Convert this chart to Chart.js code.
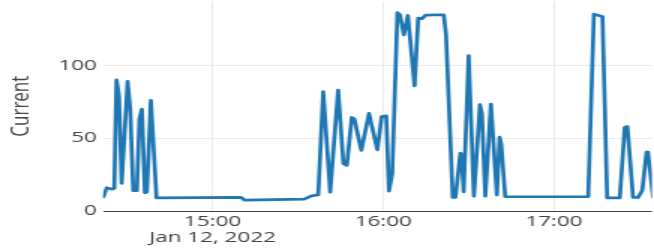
<!DOCTYPE html>
<html>
<head>
<meta charset="utf-8">
<title>Current</title>
<script src="https://cdn.jsdelivr.net/npm/chart.js@4.4.1/dist/chart.umd.min.js"></script>
<style>
  html, body { margin: 0; padding: 0; background: #fff; overflow: hidden; }
  /* the source picture is stretched sideways, so the chart is drawn narrow and widened */
  #wrap { position: relative; width: 436px; height: 251px; transform: scaleX(1.5); transform-origin: 0 0; }
</style>
</head>
<body>
<div id="wrap"><canvas id="current"></canvas></div>
<script>
const times = [
  '14:21:28', '14:22:46', '14:24:44', '14:25:26', '14:26:12', '14:27:05', '14:28:01', '14:30:07',
  '14:31:02', '14:32:05', '14:33:23', '14:34:16', '14:35:08', '14:36:11', '14:36:53', '14:38:17',
  '14:40:17', '15:10:03', '15:11:13', '15:32:13', '15:34:34', '15:36:26', '15:37:08', '15:38:53',
  '15:41:20', '15:44:08', '15:45:59', '15:47:11', '15:48:56', '15:49:50', '15:52:17', '15:54:59',
  '15:57:54', '15:59:26', '16:01:03', '16:02:00', '16:03:09', '16:04:58', '16:05:51', '16:07:15',
  '16:08:39', '16:11:00', '16:12:16', '16:13:34', '16:14:51', '16:21:16', '16:22:04', '16:24:25',
  '16:25:22', '16:27:07', '16:27:28', '16:28:16', '16:30:01', '16:31:52', '16:33:59', '16:34:41',
  '16:35:52', '16:37:50', '16:39:56', '16:40:53', '16:41:28', '16:42:52', '17:12:03', '17:14:03',
  '17:17:04', '17:18:42', '17:23:09', '17:24:54', '17:25:49', '17:27:49', '17:29:34', '17:31:04',
  '17:32:33', '17:33:04', '17:34:53'
];
const current = [
  9, 16, 15, 15.5, 90, 79, 19, 89,
  70, 14, 14, 63, 70, 12.5, 13, 76,
  9, 9.3, 7.5, 8.2, 10.2, 11, 11, 82,
  13, 83, 32.5, 31.4, 64.3, 63.2, 41.6, 67,
  42, 64.8, 65.4, 13.6, 25.7, 136.3, 134.8, 121,
  134.3, 86, 132.5, 132, 134.5, 134.8, 121, 9.3,
  9.3, 39.7, 39, 13.2, 106.8, 10.2, 73, 66.6,
  10.2, 73.4, 11, 50.7, 46, 9.8, 9.8, 135.2,
  133.6, 9, 9, 57.5, 58, 9.3, 9.3, 14.3,
  40.4, 40, 9
];
const xRange = ['14:21:28', '17:34:28'];
const xTicks = ['15:00', '16:00', '17:00'];
const dateLabel = 'Jan 12, 2022';
const yTicks = [0, 50, 100];
const yMax = 144;

function toMinutes(t) {
  const [h, m, s] = t.split(':').map(Number);
  return h * 60 + m + (s || 0) / 60;
}

function createChart() {
  const ctx = document.getElementById('current').getContext('2d');
  const tickFont = { family: '"Open Sans"', size: 15, lineHeight: 1.1 };

  new Chart(ctx, {
    type: 'line',
    data: {
      datasets: [{
        label: 'Current',
        data: times.map((t, i) => ({ x: toMinutes(t), y: current[i] })),
        borderColor: '#1f77b4',
        borderWidth: 2.7,
        borderJoinStyle: 'round',
        pointRadius: 0,
        tension: 0,
        fill: false
      }]
    },
    options: {
      responsive: true,
      maintainAspectRatio: false,
      animation: false,
      events: [],
      layout: { padding: 0 },
      plugins: {
        legend: { display: false },
        tooltip: { enabled: false }
      },
      scales: {
        x: {
          type: 'linear',
          min: toMinutes(xRange[0]),
          max: toMinutes(xRange[1]),
          grid: { color: '#ebebeb', lineWidth: 1, drawTicks: false },
          border: { display: false },
          afterBuildTicks: scale => {
            scale.ticks = xTicks.map(t => ({ value: toMinutes(t) }));
          },
          afterFit: scale => {
            scale.height = 40;
            scale.paddingLeft = 0;
            scale.paddingRight = 0;
          },
          ticks: {
            autoSkip: false,
            maxRotation: 0,
            padding: 2,
            color: '#444',
            font: tickFont,
            callback: (value, index) => index === 0 ? [xTicks[index], dateLabel] : xTicks[index]
          }
        },
        y: {
          min: 0,
          max: yMax,
          grid: {
            color: c => c.tick && c.tick.value === 0 ? '#444' : '#ebebeb',
            lineWidth: 1,
            drawTicks: false
          },
          border: { display: false },
          afterBuildTicks: scale => {
            scale.ticks = yTicks.map(v => ({ value: v }));
          },
          afterFit: scale => {
            scale.width = 68.67;
            scale.paddingTop = 0;
            scale.paddingBottom = 0;
          },
          ticks: {
            padding: 4,
            color: '#444',
            font: tickFont
          },
          title: {
            display: true,
            text: 'Current',
            color: '#444',
            font: { family: '"Open Sans"', size: 17 },
            padding: { top: 4.3, bottom: 0 }
          }
        }
      }
    }
  });
}

document.fonts.load('15px "Open Sans"').then(createChart, createChart);
</script>
</body>
</html>
